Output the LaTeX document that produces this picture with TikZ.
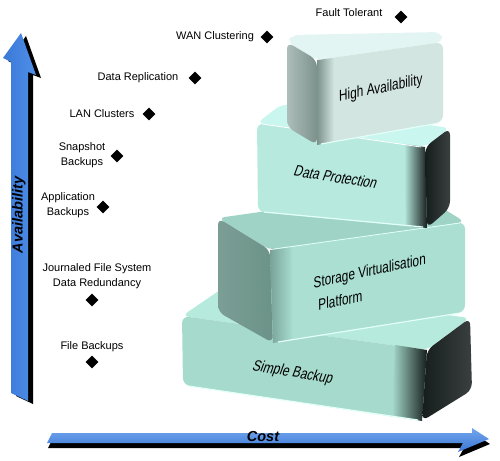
\documentclass[tikz,border=0pt]{standalone}
\usepackage{fontspec}
\setmainfont{Liberation Sans}
\newfontfamily\blockfont[FakeStretch=0.78,FakeSlant=0.2]{Liberation Sans}
\usetikzlibrary{shapes.geometric}
\definecolor{axblue}{HTML}{4F8FE8}
\definecolor{axbluedk}{HTML}{3A78D6}
\definecolor{darkface}{HTML}{161E1D}
\definecolor{sbtop}{HTML}{B5EADC}
\definecolor{sbfront}{HTML}{A6DACC}
\definecolor{svtop}{HTML}{9FD3C6}
\definecolor{svleft}{HTML}{6C9389}
\definecolor{svfront}{HTML}{AADFD2}
\definecolor{dptop}{HTML}{C9F6EE}
\definecolor{dpfront}{HTML}{B7E9DE}
\definecolor{hatop}{HTML}{E3F5F2}
\definecolor{haleft}{HTML}{8BA29C}
\definecolor{hafront}{HTML}{D2E5E0}
\definecolor{hilite}{HTML}{E2FFF8}
\begin{document}
\begin{tikzpicture}[x=1pt,y=-1pt,
  lbl/.style={font=\fontsize{11}{15}\selectfont, align=center, inner sep=0pt},
  dia/.style={diamond, fill=black, inner sep=0pt, minimum size=13pt},
  blk/.style={font=\blockfont\fontsize{15.5}{23}\selectfont, align=left, inner sep=0pt},
  ax/.style={font=\bfseries\itshape\fontsize{14.5}{16}\selectfont, inner sep=0pt},
  rc/.style={rounded corners=7pt},
  edgehl/.style={draw=hilite, line width=1.2pt, rounded corners=5pt}]
\useasboundingbox (0,0) rectangle (500,460);

% ---------- vertical arrow (Availability)
\fill[black] (16,396) -- (16,65) -- (8,61) -- (26,36) -- (41,78) -- (33,75) -- (33,404) -- cycle;
\shade[left color=axbluedk, right color=axblue] (11,393) -- (11,62) -- (3,58) -- (21,33) -- (36,75) -- (28,72) -- (28,401) -- cycle;
\node[ax, rotate=90] (avail) at (19,215) {Availability};

% ---------- horizontal arrow (Cost)
\fill[black] (48,448) -- (53,438) -- (473,438) -- (473,433) -- (490,444) -- (459,457) -- (464,448) -- cycle;
\shade[top color=axblue!80!white, bottom color=axbluedk] (47,443) -- (52,433) -- (472,433) -- (472,428) -- (489,439) -- (458,452) -- (463,443) -- cycle;
\node[ax] (cost) at (263,437) {Cost};

% ---------- Simple Backup block
\fill[sbtop, rc] (182,316) -- (427,350) -- (470,318) -- (226,286) -- cycle;
\fill[sbfront, rc] (182,316) -- (427,350) -- (422,421) -- (183,385) -- cycle;
\shade[left color=sbfront, right color=darkface] (395,345) -- (427,350) -- (422,421) -- (392,416) -- cycle;
\shade[left color=darkface, right color=darkface!85!white, rc] (427,350) -- (470,318) -- (472,390) -- (422,421) -- cycle;
\draw[edgehl] (188,386) -- (418,420);

% ---------- Storage Virtualisation block
\fill[svtop, rc] (218,218) -- (270,250) -- (465,222) -- (413,190) -- cycle;
\shade[left color=svleft!90!white, right color=svleft, rc] (218,218) -- (270,250) -- (273,343) -- (218,312) -- cycle;
\fill[svfront, rc] (270,250) -- (465,222) -- (465,312) -- (273,343) -- cycle;
\shade[left color=svleft!80!svfront, right color=svfront] (270,250) -- (292,247) -- (293,340) -- (273,343) -- cycle;
\draw[edgehl] (278,342) -- (460,313);
\draw[hilite, line width=0.8pt] (274,249) -- (460,223);

% ---------- Data Protection block
\fill[dptop, rc] (257,123) -- (425,147) -- (450,128) -- (282,104) -- cycle;
\fill[dpfront, rc] (257,123) -- (425,147) -- (427,228) -- (258,212) -- cycle;
\shade[left color=dpfront, right color=darkface] (404,144) -- (425,147) -- (427,228) -- (406,226) -- cycle;
\shade[left color=darkface, right color=darkface!85!white, rc] (425,147) -- (450,128) -- (450,208) -- (427,228) -- cycle;
\draw[edgehl] (264,212) -- (423,227);
\draw[white, line width=0.8pt] (262,124) -- (421,147);

% ---------- High Availability block
\fill[hatop, rc] (287,42) -- (317,60) -- (443,42) -- (441,32) -- (292,35) -- cycle;
\shade[left color=haleft!70!white, right color=haleft!90!black, rc] (287,42) -- (317,60) -- (317,145) -- (287,127) -- cycle;
\fill[hafront, rc] (317,60) -- (443,42) -- (443,122) -- (317,145) -- cycle;
\shade[left color=haleft!90!black, right color=hafront] (317,60) -- (334,58) -- (334,142) -- (317,145) -- cycle;
\draw[edgehl] (321,144) -- (439,123);

% ---------- block texts
\node[blk, rotate=12] (tha) at (380,89) {High Availability};
\node[blk, rotate=-9] (tdp) at (335,177) {Data Protection};
\node[blk, rotate=12] (tsv) at (371,282) {Storage Virtualisation\\Platform};
\node[blk, rotate=-9] (tsb) at (292,373) {Simple Backup};

% ---------- labels and markers
\node[lbl] (ft) at (349,13) {Fault Tolerant};
\node[dia] (dft) at (401,17) {};
\node[lbl] (wan) at (215,37) {WAN Clustering};
\node[dia] (dwan) at (267,37) {};
\node[lbl] (drep) at (138,78) {Data Replication};
\node[dia] (ddrep) at (195,78) {};
\node[lbl] (lan) at (102,114) {LAN Clusters};
\node[dia] (dlan) at (149,114) {};
\node[lbl] (snap) at (82,155) {Snapshot\\Backups};
\node[dia] (dsnap) at (117,156) {};
\node[lbl] (app) at (68,205) {Application\\Backups};
\node[dia] (dapp) at (103,207) {};
\node[lbl] (jfs) at (97,276) {Journaled File System\\Data Redundancy};
\node[dia] (djfs) at (92,300) {};
\node[lbl] (fb) at (92,347) {File Backups};
\node[dia] (dfb) at (92,362) {};
\end{tikzpicture}
\end{document}
